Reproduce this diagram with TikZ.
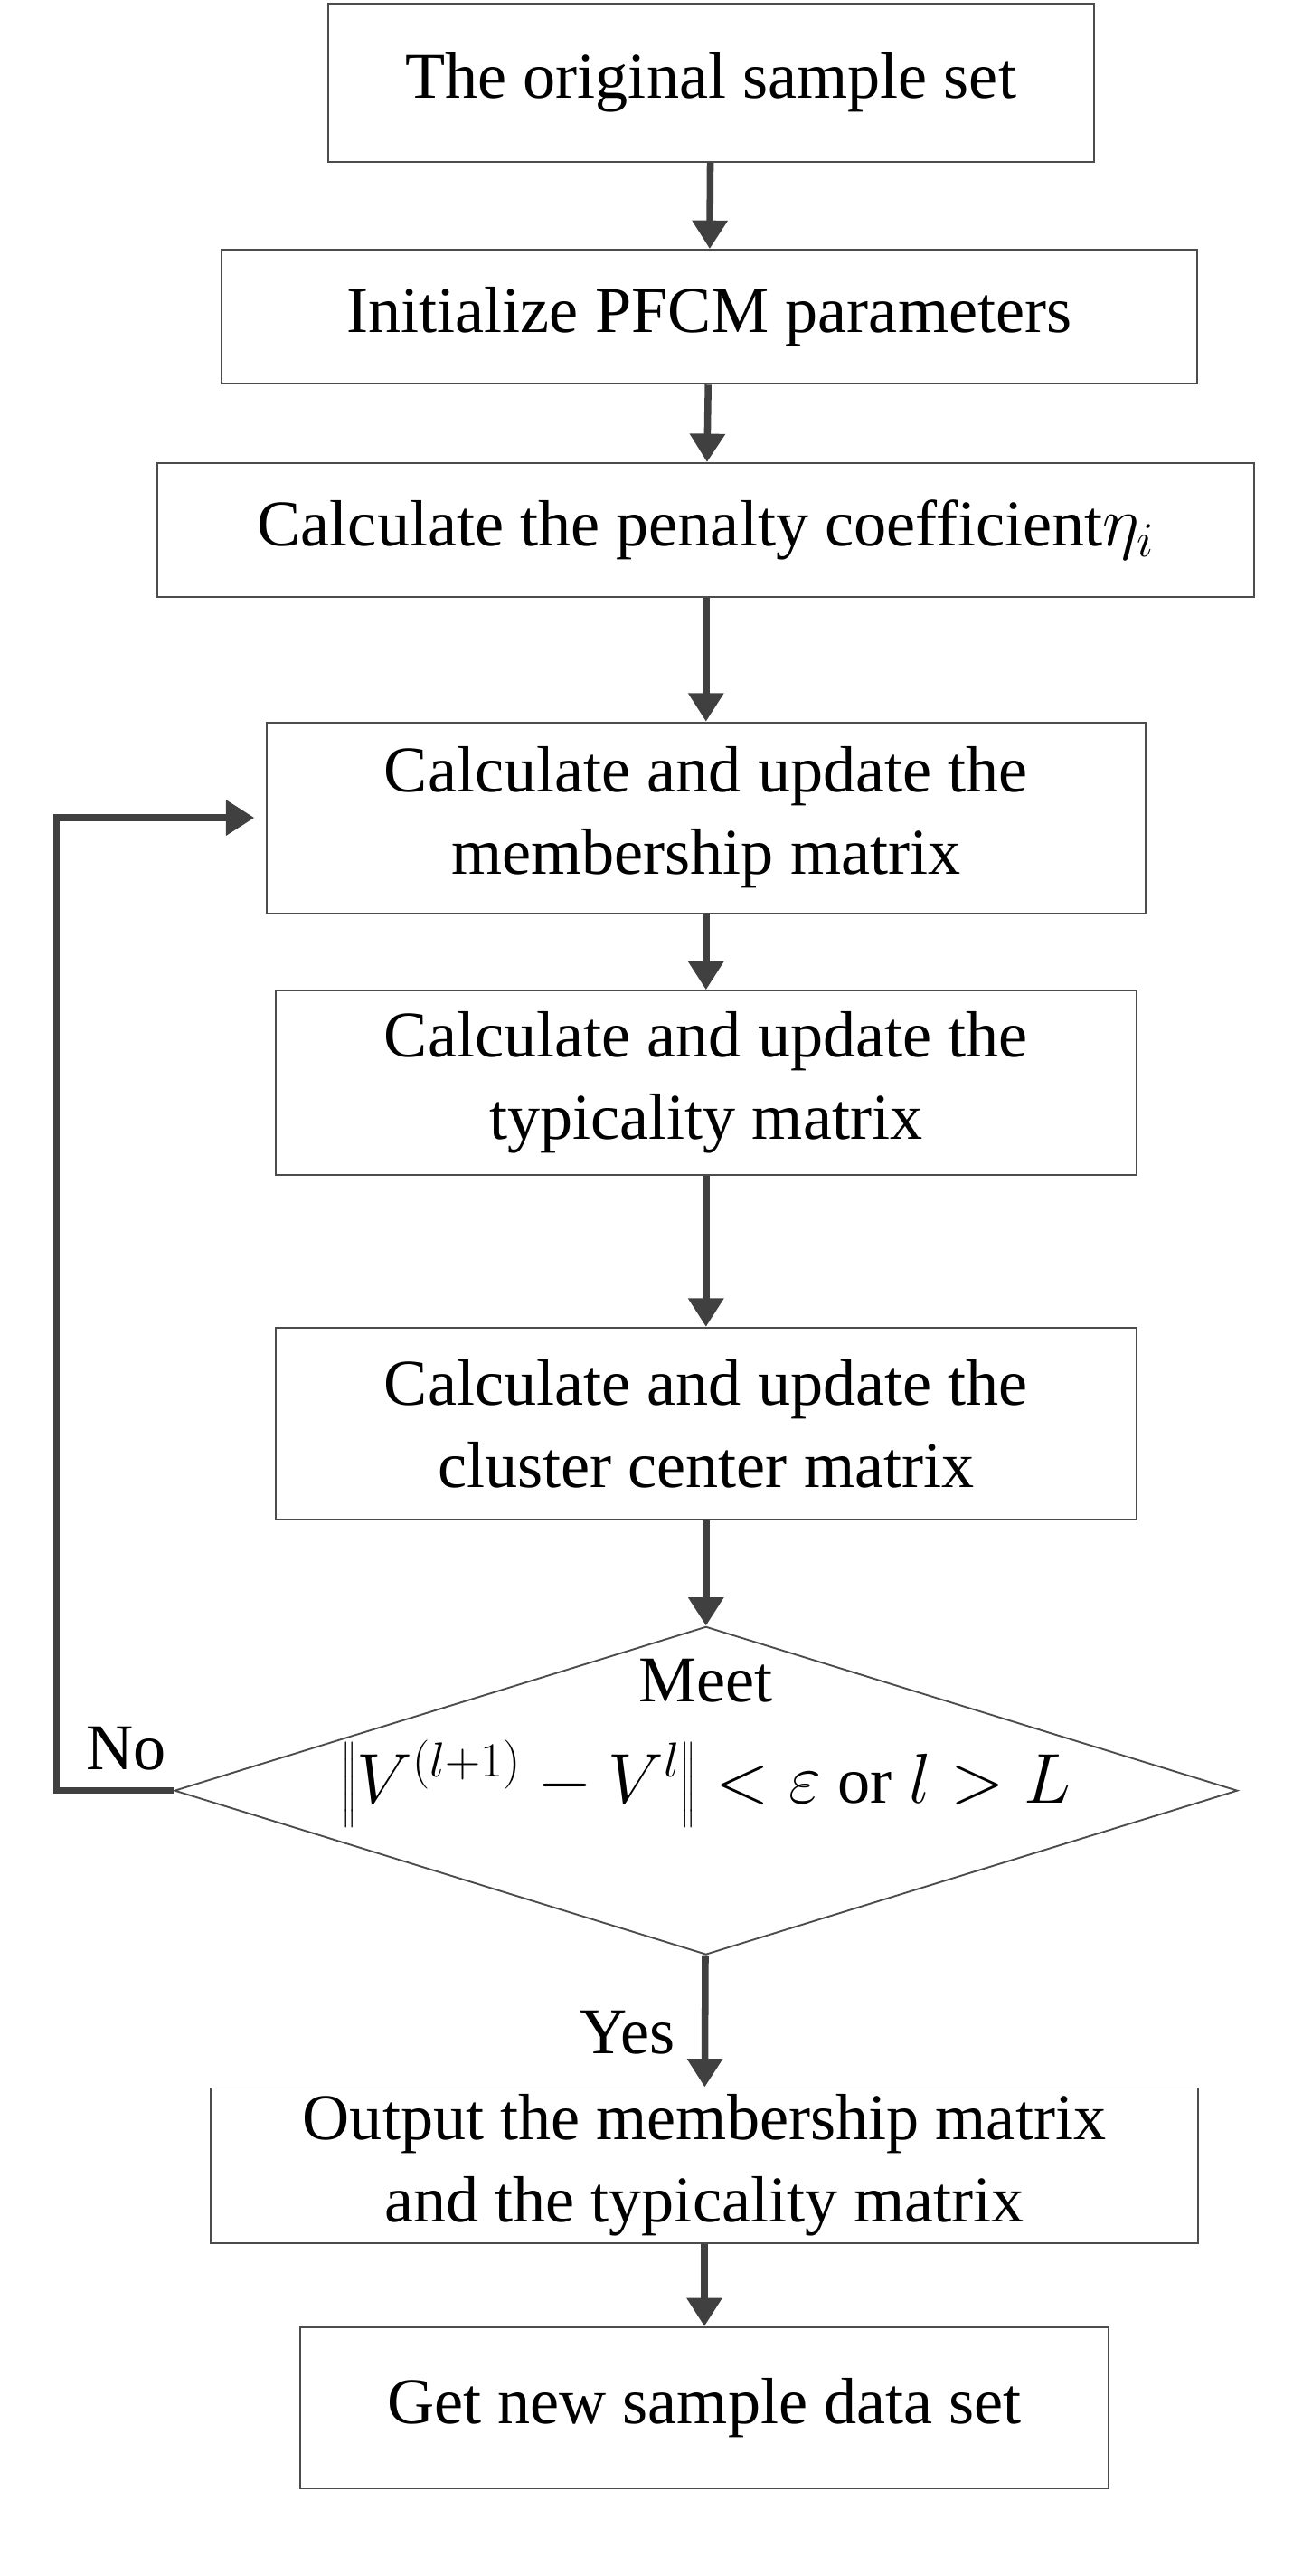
\documentclass[tikz,border=0pt]{standalone}
\usepackage{fontspec}
\setmainfont{Liberation Serif}
\usetikzlibrary{shapes.geometric,arrows.meta}

\tikzset{
  box/.style={draw=black!70,line width=0.6pt,inner sep=0pt,align=center,font=\fontsize{23}{29}\selectfont},
  link/.style={draw=black!75,line width=2.4pt,-{Triangle[length=10pt,width=12pt]}}
}

\begin{document}
\begin{tikzpicture}[x=0.02cm,y=-0.02cm]
\useasboundingbox (0,0) rectangle (800,1594);

\node[box,minimum width=474*0.02cm,minimum height=98*0.02cm] (start) at (440,51) {The original sample set};
\node[box,minimum width=604*0.02cm,minimum height=83*0.02cm] (init) at (439,196) {Initialize PFCM parameters};
\node[box,minimum width=679*0.02cm,minimum height=83*0.02cm] (pen) at (437,328) {Calculate the penalty coefficient$\eta_i$};
\node[box,minimum width=544*0.02cm,minimum height=118*0.02cm] (memb) at (437,506) {Calculate and update the\\membership matrix};
\node[box,minimum width=533*0.02cm,minimum height=114*0.02cm] (typ) at (437,670) {Calculate and update the\\typicality matrix};
\node[box,minimum width=533*0.02cm,minimum height=119*0.02cm] (cent) at (437,881) {Calculate and update the\\cluster center matrix};
\node[box,diamond,aspect=3.24,minimum width=658*0.02cm,minimum height=203*0.02cm] (meet) at (437,1108) {};
\node[font=\fontsize{23}{29}\selectfont,inner sep=0pt] (mtxt) at (437,1040) {Meet};
\node[font=\fontsize{23}{29}\selectfont,inner sep=0pt] (mcond) at (437,1104) {$\left\Vert V^{(l+1)}-V^{l}\right\Vert<\varepsilon$ or $l>L$};
\node[box,minimum width=611*0.02cm,minimum height=96*0.02cm] (out) at (436,1340) {Output the membership matrix\\and the typicality matrix};
\node[box,minimum width=500*0.02cm,minimum height=100*0.02cm] (get) at (436,1490) {Get new sample data set};

\coordinate (lb) at (35,1108);
\coordinate (lt) at (35,506);

\draw[link] (start) -- (init);
\draw[link] (init) -- (pen);
\draw[link] (pen) -- (memb);
\draw[link] (memb) -- (typ);
\draw[link] (typ) -- (cent);
\draw[link] (cent) -- (meet);
\draw[link] (meet) -- node[left,font=\fontsize{23}{29}\selectfont,xshift=-6pt,yshift=-4pt] {Yes} (out);
\draw[link] (out) -- (get);
\draw[link] (meet.west) -- (lb) -- (lt) -- ([xshift=-4pt]memb.west);
\node[font=\fontsize{23}{29}\selectfont] (no) at (78,1082) {No};
\end{tikzpicture}
\end{document}
